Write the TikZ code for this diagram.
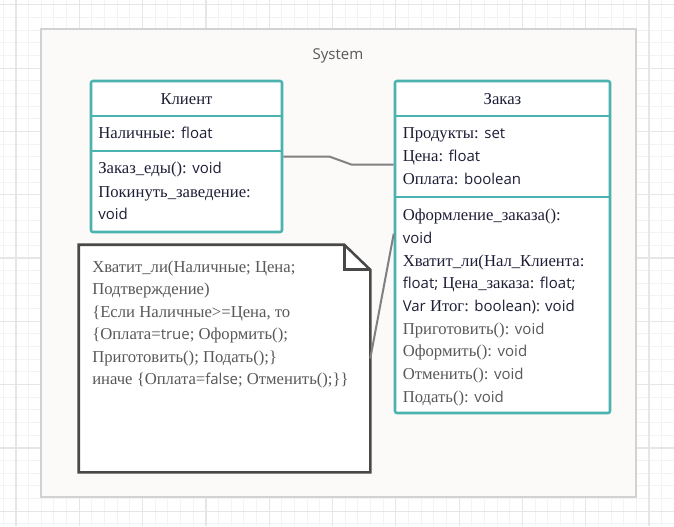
\documentclass[tikz,border=0pt]{standalone}
\usepackage{fontspec}
\setmainfont{Liberation Serif}
\newfontfamily\cyr{Liberation Serif}
\newfontfamily\ls{Open Sans}[Scale=0.9]
\usetikzlibrary{calc,fit}
\definecolor{teal1}{RGB}{74,178,175}
\definecolor{ink}{RGB}{30,30,55}
\definecolor{dim}{RGB}{88,88,88}
\definecolor{framefill}{RGB}{251,250,249}
\definecolor{framedraw}{RGB}{210,210,210}
\definecolor{gridminor}{RGB}{243,243,243}
\definecolor{gridmajor}{RGB}{230,230,230}
\definecolor{conngray}{RGB}{128,128,128}
\definecolor{notedraw}{RGB}{72,72,72}
\begin{document}
\begin{tikzpicture}[x=0.75pt,y=-0.75pt,
  cls/.style={draw=teal1,line width=1.9pt,fill=white,rounded corners=1.5pt,inner sep=0pt},
  sepline/.style={draw=teal1,line width=1.9pt},
  txt/.style={anchor=base west,inner sep=0pt,font=\cyr\fontsize{12.5}{14}\selectfont,text=ink},
  txd/.style={txt,text=dim},
  ttl/.style={anchor=base,inner sep=0pt,font=\cyr\fontsize{12.5}{14}\selectfont,text=ink},
  conn/.style={draw=conngray,line width=1.5pt},
  notebox/.style={draw=notedraw,line width=1.9pt,fill=white},
]
\useasboundingbox (0,0) rectangle (674,526);
\fill[white] (0,0) rectangle (674,526);
% grid
\foreach \i in {-1,...,52} {\pgfmathsetmacro\xx{16+12.66*\i}
  \draw[gridminor,line width=0.75pt] (\xx,0) -- (\xx,526);}
\foreach \i in {0,...,41} {\pgfmathsetmacro\yy{4.8+12.66*\i}
  \draw[gridminor,line width=0.75pt] (0,\yy) -- (674,\yy);}
\foreach \i in {0,...,10} {\pgfmathsetmacro\xx{16+63.3*\i}
  \draw[gridmajor,line width=0.9pt] (\xx,0) -- (\xx,526);}
\foreach \i in {0,...,8} {\pgfmathsetmacro\yy{4.8+63.3*\i}
  \draw[gridmajor,line width=0.9pt] (0,\yy) -- (674,\yy);}
% frame
\node[fit={(41,29) (636,497)},inner sep=0pt,draw=framedraw,fill=framefill,line width=1.9pt] (sys) {};
\node[anchor=base,inner sep=0pt,font=\ls\fontsize{12.5}{14}\selectfont,text=dim] (systxt) at (338,59) {System};
% Klient
\node[cls,fit={(91,81) (282,232)}] (klient) {};
\draw[sepline] (klient.west |- 0,116) -- (klient.east |- 0,116);
\draw[sepline] (klient.west |- 0,151) -- (klient.east |- 0,151);
\node[ttl] (kt) at (186.5,104.5) {Клиент};
\node[txt] (k1) at (98,138.5) {Наличные: {\ls float}};
\node[txt] (k2) at (98,173.5) {Заказ\_еды(): {\ls void}};
\node[txt] (k3) at (98,197.5) {Покинуть\_заведение:};
\node[txt] (k4) at (98,219.5) {{\ls void}};
% Zakaz
\node[cls,fit={(395,81) (610,413)}] (zakaz) {};
\draw[sepline] (zakaz.west |- 0,116) -- (zakaz.east |- 0,116);
\draw[sepline] (zakaz.west |- 0,197) -- (zakaz.east |- 0,197);
\node[ttl] (zt) at (502.5,104.5) {Заказ};
\node[txt] (z1) at (402.5,138.5) {Продукты: {\ls set}};
\node[txt] (z2) at (402.5,161.5) {Цена: {\ls float}};
\node[txt] (z3) at (402.5,184.5) {Оплата: {\ls boolean}};
\node[txt] (z4) at (402.5,220.5) {Оформление\_заказа():};
\node[txt] (z5) at (402.5,243) {{\ls void}};
\node[txt] (z6) at (402.5,266) {Хватит\_ли(Нал\_Клиента:};
\node[txt] (z7) at (402.5,288.5) {{\ls float;} Цена\_заказа: {\ls float;}};
\node[txt] (z8) at (402.5,311) {{\ls Var} Итог: {\ls boolean): void}};
\node[txd] (z9) at (402.5,334) {Приготовить(): {\ls void}};
\node[txd] (z10) at (402.5,356.5) {Оформить(): {\ls void}};
\node[txd] (z11) at (402.5,379.5) {Отменить(): {\ls void}};
\node[txd] (z12) at (402.5,402) {Подать(): {\ls void}};
% note
\node[fit={(79,245) (370,472)},inner sep=0pt] (note) {};
\draw[notebox,line join=miter] (note.north west) -- ($(note.north east)+(-26,0)$) -- ($(note.north east)+(0,25)$) -- (note.south east) -- (note.south west) -- cycle;
\draw[notebox,line join=miter,fill=none] ($(note.north east)+(-26,0)$) -- ($(note.north east)+(-26,25)$) -- ($(note.north east)+(0,25)$);
\node[txd] (n1) at (92,272.5) {Хватит\_ли(Наличные; Цена;};
\node[txd] (n2) at (92,294.5) {Подтверждение)};
\node[txd] (n3) at (92,317) {\{Если Наличные>=Цена, то};
\node[txd] (n4) at (92,339.5) {\{Оплата={\ls true}; Оформить();};
\node[txd] (n5) at (92,362) {Приготовить(); Подать();\}};
\node[txd] (n6) at (92,384.5) {иначе \{Оплата={\ls false}; Отменить();\}\}};
% connectors
\draw[conn] (klient.east) -- ++(46,0) -- ++(22,8) coordinate (kbend) -- (kbend -| zakaz.west);
\draw[conn] (note.east) -- ($(zakaz.north west)+(0,154)$);
\end{tikzpicture}
\end{document}
